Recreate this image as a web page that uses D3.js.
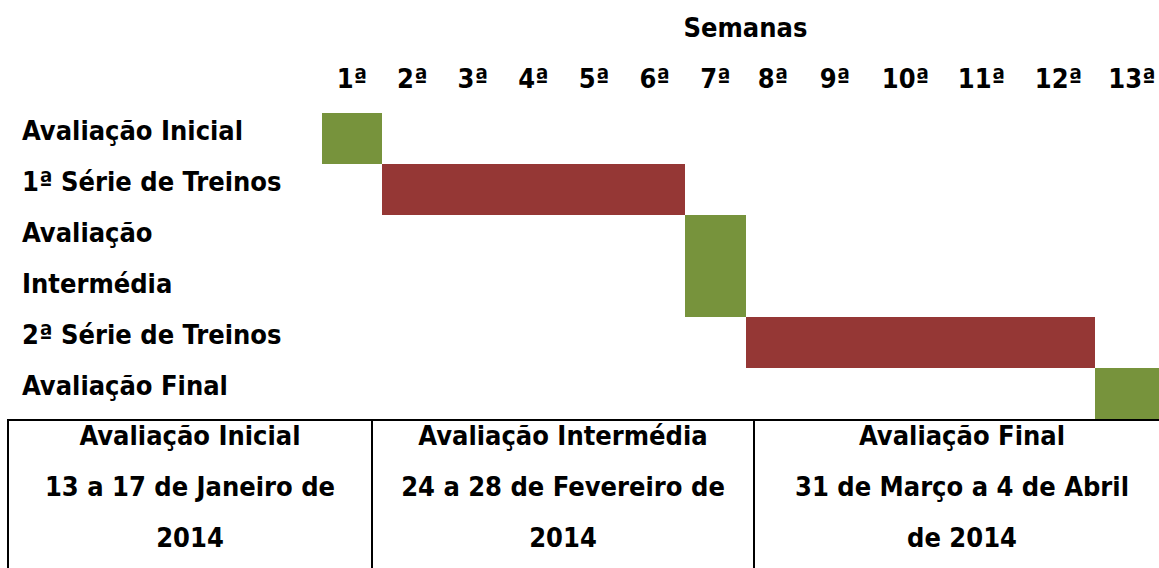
<!DOCTYPE html>
<html lang="pt">
<head>
<meta charset="UTF-8">
<title>Cronograma</title>
<script src="https://d3js.org/d3.v7.min.js"></script>
<style>
  body { margin: 0; background: #fff; }
  text { font-family: "DejaVu Sans Condensed", "DejaVu Sans", sans-serif; font-weight: bold; fill: #000; font-size: 27px; }
</style>
</head>
<body>
<svg id="chart" width="1159" height="568"></svg>
<script>
// --- data ---
var weeks = ["1ª","2ª","3ª","4ª","5ª","6ª","7ª","8ª","9ª","10ª","11ª","12ª","13ª"];
var taskLabels = [["Avaliação Inicial"], ["1ª Série de Treinos"], ["Avaliação", "Intermédia"], ["2ª Série de Treinos"], ["Avaliação Final"]];
var startWeek = [1, 2, 7, 8, 13];
var endWeek = [1, 6, 7, 12, 13];
var taskType = ["avaliacao", "treino", "avaliacao", "treino", "avaliacao"];
var evalNames = ["Avaliação Inicial", "Avaliação Intermédia", "Avaliação Final"];
var evalDates = [["13 a 17 de Janeiro de", "2014"], ["24 a 28 de Fevereiro de", "2014"], ["31 de Março a 4 de Abril", "de 2014"]];

// --- layout ---
var colEdges = [322, 382, 442.6, 503.2, 563.8, 624.4, 685, 746, 800, 870, 941, 1022, 1095, 1169];
var tableCols = [8, 372, 754, 1170];
var lineH = 51, top0 = 113;

var svg = d3.select("#chart");
var x = d3.scaleLinear().domain(d3.range(colEdges.length)).range(colEdges);
var y = d3.scaleLinear().domain([0, 1]).range([top0, top0 + lineH]);
var color = d3.scaleOrdinal().domain(["avaliacao", "treino"]).range(["#77933c", "#953735"]);

svg.append("text").attr("x", (x(0) + x(weeks.length)) / 2).attr("y", 37)
  .attr("text-anchor", "middle").text("Semanas");

svg.selectAll("text.wk").data(weeks).enter().append("text").attr("class", "wk")
  .attr("x", (d, i) => (x(i) + x(i + 1)) / 2).attr("y", 88)
  .attr("text-anchor", "middle").text(d => d);

// line offsets for each task row
var lineStart = [], acc = 0;
taskLabels.forEach(l => { lineStart.push(acc); acc += l.length; });

var rows = svg.selectAll("g.row").data(taskLabels).enter().append("g").attr("class", "row");
rows.append("rect")
  .attr("x", (d, i) => x(startWeek[i] - 1))
  .attr("width", (d, i) => x(endWeek[i]) - x(startWeek[i] - 1))
  .attr("y", (d, i) => y(lineStart[i]))
  .attr("height", (d, i) => y(lineStart[i] + d.length) - y(lineStart[i]))
  .attr("fill", (d, i) => color(taskType[i]));
rows.each(function(d, i) {
  d3.select(this).selectAll("text").data(d).enter().append("text")
    .attr("x", 22).attr("y", (t, j) => y(lineStart[i] + j) + 27)
    .text(t => t);
});

// table of evaluations
var tTop = y(acc) + 1;
svg.append("rect").attr("x", tableCols[0]).attr("y", tTop).attr("width", tableCols[3] - tableCols[0])
  .attr("height", 200).attr("fill", "none").attr("stroke", "#000").attr("stroke-width", 2);
svg.selectAll("line.div").data(tableCols.slice(1, 3)).enter().append("line").attr("class", "div")
  .attr("x1", d => d).attr("x2", d => d).attr("y1", tTop).attr("y2", 600)
  .attr("stroke", "#000").attr("stroke-width", 2);

evalNames.forEach((n, i) => {
  var cx = (tableCols[i] + tableCols[i + 1]) / 2;
  var lines = [n].concat(evalDates[i]);
  svg.selectAll(null).data(lines).enter().append("text")
    .attr("x", cx).attr("y", (t, j) => tTop + 25 + j * lineH)
    .attr("text-anchor", "middle").text(t => t);
});
</script>
</body>
</html>
